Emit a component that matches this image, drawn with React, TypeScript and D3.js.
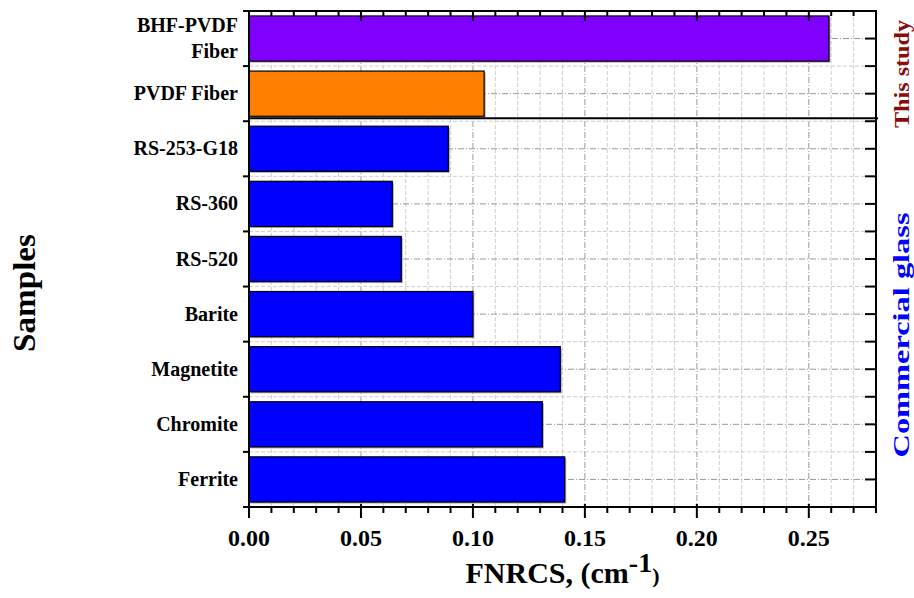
import React from "react";
import * as d3 from "d3";

// samples, top to bottom
const categories = [
  "BHF-PVDF Fiber",
  "PVDF Fiber",
  "RS-253-G18",
  "RS-360",
  "RS-520",
  "Barite",
  "Magnetite",
  "Chromite",
  "Ferrite",
];
const labelLines = [
  ["BHF-PVDF", "Fiber"],
  ["PVDF Fiber"],
  ["RS-253-G18"],
  ["RS-360"],
  ["RS-520"],
  ["Barite"],
  ["Magnetite"],
  ["Chromite"],
  ["Ferrite"],
];
// FNRCS (cm^-1)
const values = [0.259, 0.105, 0.089, 0.064, 0.068, 0.1, 0.139, 0.131, 0.141];
const barColors = [
  "#8000FF",
  "#FF8000",
  "#0000FF",
  "#0000FF",
  "#0000FF",
  "#0000FF",
  "#0000FF",
  "#0000FF",
  "#0000FF",
];
const xTickLabels = ["0.00", "0.05", "0.10", "0.15", "0.20", "0.25"];
const studyCount = 2; // first two rows are "This study"

const W = 914;
const H = 598;
const margin = { top: 11, right: 38, bottom: 91, left: 249 };
const FONT = "'Liberation Serif', 'Times New Roman', serif";

export default function App() {
  const x = d3
    .scaleLinear()
    .domain([0, 0.28])
    .range([margin.left, W - margin.right]);
  const y = d3
    .scaleBand()
    .domain(categories)
    .range([margin.top, H - margin.bottom])
    .paddingInner(0.18)
    .paddingOuter(0.09);
  const step = y.step();
  const y0 = margin.top;
  const y1 = H - margin.bottom;
  const x0 = margin.left;
  const x1 = W - margin.right;

  const minor = d3.range(1, 28).map((i) => i / 100);
  const allTicks = d3.range(0, 29).map((i) => i / 100);
  const boundaries = d3.range(0, categories.length + 1).map((i) => y0 + i * step);
  const centers = categories.map((c) => (y(c) as number) + y.bandwidth() / 2);
  const sepY = y0 + studyCount * step - 3;

  return (
    <svg
      width={W}
      height={H}
      style={{ position: "absolute", left: 0, top: 0, background: "#fff" }}
      fontFamily={FONT}
      fontWeight="bold"
    >
      {/* grid */}
      <g>
        {minor.map((v, i) => {
          const major = Math.round(v * 100) % 5 === 0;
          return (
            <line
              key={"gx" + i}
              x1={x(v)}
              x2={x(v)}
              y1={y0}
              y2={y1}
              stroke={major ? "#9a9a9a" : "#cfcfcf"}
              strokeWidth={1}
              strokeDasharray={major ? "6,2,1,2" : "4,2"}
            />
          );
        })}
        {boundaries.slice(1, -1).map((b, i) => (
          <line
            key={"gb" + i}
            x1={x0}
            x2={x1}
            y1={b}
            y2={b}
            stroke="#cfcfcf"
            strokeDasharray="4,2"
          />
        ))}
        {centers.map((c, i) => (
          <line
            key={"gc" + i}
            x1={x0}
            x2={x1}
            y1={c}
            y2={c}
            stroke="#9a9a9a"
            strokeDasharray="6,2,1,2"
          />
        ))}
      </g>

      {/* bars */}
      <g>
        {categories.map((c, i) => (
          <g key={c}>
            <rect
              x={x(0) + 1.5}
              y={(y(c) as number) + 1.5}
              width={x(values[i]) - x(0)}
              height={y.bandwidth()}
              fill="#777"
              opacity={0.6}
            />
            <rect
              x={x(0)}
              y={y(c)}
              width={x(values[i]) - x(0)}
              height={y.bandwidth()}
              fill={barColors[i]}
              stroke="#000"
              strokeWidth={1.2}
            />
          </g>
        ))}
      </g>

      {/* separator between this study and commercial glass */}
      <line x1={x0} x2={x1 + 2} y1={sepY} y2={sepY} stroke="#000" strokeWidth={2} />

      {/* frame */}
      <rect x={x0} y={y0} width={x1 - x0} height={y1 - y0} fill="none" stroke="#000" strokeWidth={2} />

      {/* bottom axis ticks */}
      {allTicks.map((v, i) => {
        const major = i % 5 === 0;
        return (
          <line
            key={"bt" + i}
            x1={x(v)}
            x2={x(v)}
            y1={y1 - (major ? 3 : 0)}
            y2={y1 + (major ? 11 : 6)}
            stroke="#000"
            strokeWidth={2}
          />
        );
      })}
      {/* top axis ticks (inward) */}
      {allTicks.map((v, i) => {
        const major = i % 5 === 0;
        return (
          <line
            key={"tt" + i}
            x1={x(v)}
            x2={x(v)}
            y1={y0}
            y2={y0 + (major ? 10 : 5)}
            stroke="#000"
            strokeWidth={2}
          />
        );
      })}
      {/* left ticks at row boundaries */}
      {boundaries.map((b, i) => (
        <line key={"lt" + i} x1={x0 - 6} x2={x0} y1={b} y2={b} stroke="#000" strokeWidth={2} />
      ))}
      {/* right ticks (inward) at boundaries and centres */}
      {boundaries.concat(centers).map((b, i) => (
        <line key={"rt" + i} x1={x1 - 11} x2={x1} y1={b} y2={b} stroke="#000" strokeWidth={2} />
      ))}

      {/* x tick labels */}
      {xTickLabels.map((t) => (
        <text key={t} x={x(+t)} y={546} textAnchor="middle" fontSize={24}>
          {t}
        </text>
      ))}

      {/* category labels */}
      {categories.map((c, i) => {
        const lines = labelLines[i];
        const cy = centers[i];
        return (
          <text key={"cl" + c} x={238} textAnchor="end" fontSize={20}>
            {lines.map((l, j) => (
              <tspan key={j} x={238} y={cy + 6.5 + (j - (lines.length - 1) / 2) * 26}>
                {l}
              </tspan>
            ))}
          </text>
        );
      })}

      {/* x axis title */}
      <text x={(x0 + x1) / 2} y={583} textAnchor="middle" fontSize={30}>
        <tspan>FNRCS, (cm</tspan>
        <tspan dy={-11} fontSize={28}>-1</tspan>
        <tspan dy={11} fontSize={22}>)</tspan>
      </text>

      {/* y axis title */}
      <text
        transform={`translate(35,${(y0 + y1) / 2 + 34}) rotate(-90)`}
        textAnchor="middle"
        fontSize={32}
        textLength={118}
        lengthAdjust="spacingAndGlyphs"
      >
        Samples
      </text>

      {/* group labels */}
      <text
        transform={`translate(909,74) rotate(-90)`}
        textAnchor="middle"
        fontSize={22}
        fill="#8B0A0A"
        textLength={108}
        lengthAdjust="spacingAndGlyphs"
      >
        This study
      </text>
      <text
        transform={`translate(909,335) rotate(-90)`}
        textAnchor="middle"
        fontSize={24}
        fill="#0000FF"
        textLength={245}
        lengthAdjust="spacingAndGlyphs"
      >
        Commercial glass
      </text>
    </svg>
  );
}
